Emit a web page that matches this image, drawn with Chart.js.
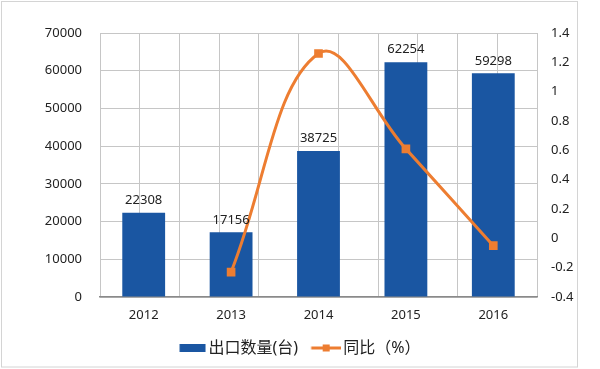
<!DOCTYPE html>
<html>
<head>
<meta charset="utf-8">
<script src="https://cdn.jsdelivr.net/npm/chart.js@4/dist/chart.umd.min.js"></script>
<style>
  html, body { margin: 0; padding: 0; background: #fff; }
  #wrap { position: relative; width: 600px; height: 369px; }
</style>
</head>
<body>
<div id="wrap"><canvas id="exportChart"></canvas></div>
<script>
const years = ['2012', '2013', '2014', '2015', '2016'];
const exportCounts = [22308, 17156, 38725, 62254, 59298];
const yoyRates = [null, -0.23, 1.26, 0.61, -0.05];
const leftTicks = [0, 10000, 20000, 30000, 40000, 50000, 60000, 70000];
const rightTicks = [-0.4, -0.2, 0, 0.2, 0.4, 0.6, 0.8, 1, 1.2, 1.4];

const barColor = '#1A56A2';
const lineColor = '#ED7D31';
const gridColor = '#c6c6c6';
const textColor = '#222';
const fontFamily = '"Noto Sans", "Noto Sans CJK SC", sans-serif';

// little pictures for the legend keys
function makeBarKey() {
    const c = document.createElement('canvas');
    c.width = 32; c.height = 8;
    const ctx = c.getContext('2d');
    ctx.fillStyle = barColor;
    ctx.fillRect(5.5, 0, 26, 8);
    return c;
}

function makeLineKey() {
    const c = document.createElement('canvas');
    c.width = 32; c.height = 8;
    const ctx = c.getContext('2d');
    ctx.strokeStyle = lineColor;
    ctx.lineWidth = 3;
    ctx.beginPath();
    ctx.moveTo(2.5, 4);
    ctx.lineTo(32, 4);
    ctx.stroke();
    ctx.fillStyle = lineColor;
    ctx.fillRect(14, 0.5, 7, 7);
    return c;
}

const barKey = makeBarKey();
const lineKey = makeLineKey();

const frameAndLabels = {
    id: 'frameAndLabels',
    afterLayout(chart) {
        // nudge the legend a bit, like in the original
        const lg = chart.legend;
        lg.left += 10; lg.right += 10;
        lg.top -= 1; lg.bottom -= 1;
    },
    beforeDraw(chart) {
        const ctx = chart.ctx;
        ctx.save();
        ctx.strokeStyle = '#d4d4d4';
        ctx.lineWidth = 1;
        ctx.strokeRect(1.5, 1.5, 576, 365.5);
        ctx.restore();
    },
    afterDatasetsDraw(chart) {
        const ctx = chart.ctx;
        const meta = chart.getDatasetMeta(1);
        ctx.save();
        ctx.font = '13px ' + fontFamily;
        ctx.fillStyle = textColor;
        ctx.textAlign = 'center';
        ctx.textBaseline = 'bottom';
        meta.data.forEach((bar, i) => {
            ctx.fillText(String(exportCounts[i]), bar.x, bar.y - 6);
        });
        ctx.restore();
    }
};

new Chart(document.getElementById('exportChart'), {
    type: 'bar',
    data: {
        labels: years,
        datasets: [
            {
                type: 'line',
                label: '同比（%）',
                data: yoyRates,
                xAxisID: 'x',
                yAxisID: 'y1',
                borderColor: lineColor,
                backgroundColor: lineColor,
                borderWidth: 3,
                tension: 0.4,
                pointStyle: 'rect',
                pointRadius: 4,
                pointHoverRadius: 4,
                spanGaps: false,
                order: 0
            },
            {
                type: 'bar',
                label: '出口数量(台)',
                data: exportCounts,
                xAxisID: 'x',
                yAxisID: 'y',
                backgroundColor: barColor,
                barPercentage: 0.49,
                categoryPercentage: 1,
                order: 1
            }
        ]
    },
    options: {
        responsive: true,
        maintainAspectRatio: false,
        animation: false,
        layout: { padding: { top: 33, left: 0, right: 20, bottom: 2 } },
        plugins: {
            tooltip: { enabled: false },
            legend: {
                position: 'bottom',
                labels: {
                    usePointStyle: true,
                    pointStyleWidth: 21,
                    boxHeight: 8,
                    padding: 16,
                    color: textColor,
                    font: { family: fontFamily, size: 16, lineHeight: 1 },
                    generateLabels() {
                        return [
                            { text: '出口数量(台)', pointStyle: barKey, fillStyle: barColor, strokeStyle: barColor, lineWidth: 0, datasetIndex: 1, fontColor: textColor },
                            { text: '同比（%）', pointStyle: lineKey, fillStyle: lineColor, strokeStyle: lineColor, lineWidth: 0, datasetIndex: 0, fontColor: textColor }
                        ];
                    }
                }
            }
        },
        scales: {
            x: {
                type: 'category',
                offset: true,
                grid: { display: false, drawTicks: false },
                border: { color: '#8a8a8a', width: 1.5 },
                ticks: { color: textColor, padding: 10, font: { family: fontFamily, size: 13 } },
                afterFit(scale) { scale.height = 28; }
            },
            // half-category grid: lines at every category edge and centre
            xGrid: {
                type: 'linear',
                position: 'bottom',
                min: 0,
                max: 10,
                display: true,
                ticks: { display: false, stepSize: 1 },
                grid: { color: gridColor, lineWidth: 1, drawTicks: false },
                border: { display: false },
                afterFit(scale) { scale.height = 0; }
            },
            y: {
                position: 'left',
                min: 0,
                max: 70000,
                afterBuildTicks(scale) { scale.ticks = leftTicks.map(v => ({ value: v })); },
                grid: { color: gridColor, drawTicks: false },
                border: { display: false },
                ticks: { color: textColor, padding: 18, font: { family: fontFamily, size: 13 }, callback: v => String(v) },
                afterFit(scale) { scale.width = 100; }
            },
            y1: {
                position: 'right',
                min: -0.4,
                max: 1.4,
                afterBuildTicks(scale) { scale.ticks = rightTicks.map(v => ({ value: v })); },
                grid: { display: false, drawTicks: false },
                border: { display: false },
                ticks: {
                    color: textColor,
                    padding: 14,
                    font: { family: fontFamily, size: 13 },
                    callback: v => String(Math.round(v * 10) / 10)
                },
                afterFit(scale) { scale.width = 43; }
            }
        }
    },
    plugins: [frameAndLabels]
});
</script>
</body>
</html>
